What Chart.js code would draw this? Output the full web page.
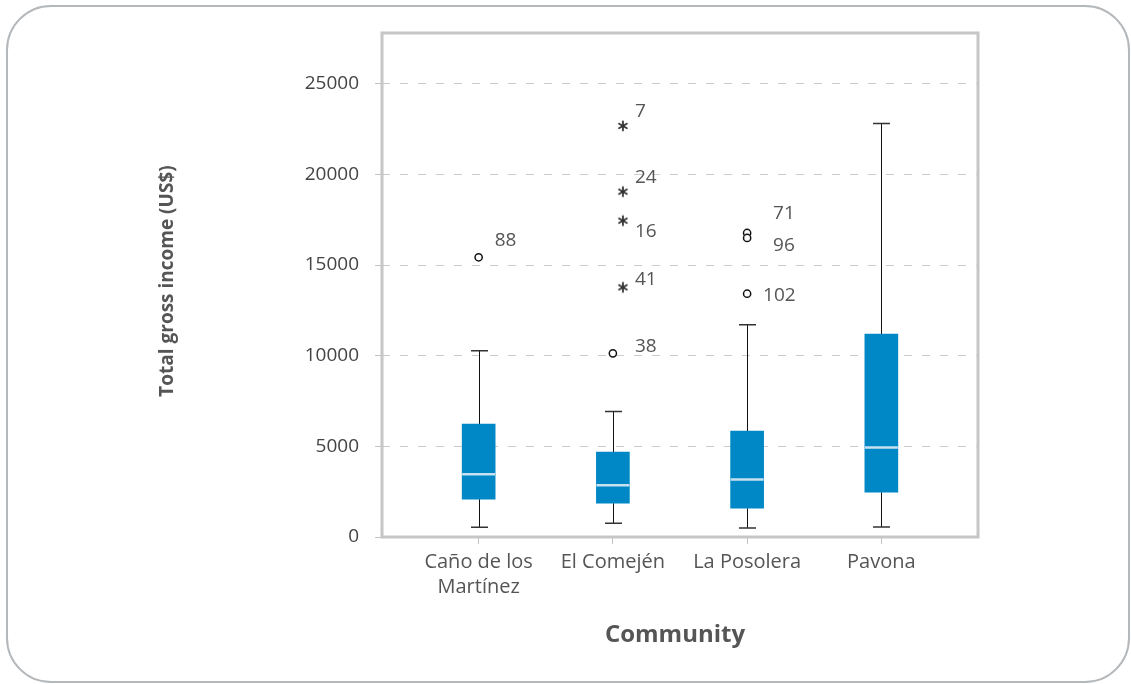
<!DOCTYPE html>
<html>
<head>
<meta charset="utf-8">
<script src="https://cdn.jsdelivr.net/npm/chart.js@4.4.1/dist/chart.umd.min.js"></script>
<style>
    html, body { margin: 0; padding: 0; background: #fff; }
    #frame {
        position: absolute; left: 6px; top: 5px;
        width: 1120px; height: 674px;
        border: 2px solid #b5b8bb; border-radius: 45px;
    }
    #chart { position: absolute; left: 0; top: 0; }
</style>
</head>
<body>
<div id="frame"></div>
<canvas id="chart" width="1131" height="684"></canvas>
<script>
// データ
const communities = [['Caño de los', 'Martínez'], 'El Comején', 'La Posolera', 'Pavona'];
const whiskerLow  = [541, 762, 502, 558];
const q1          = [2087, 1866, 1590, 2473];
const medians     = [3467, 2859, 3174, 4940];
const q3          = [6227, 4681, 5840, 11195];
const whiskerHigh = [10273, 6928, 11708, 22803];

// 外れ値 (○) と極値 (*)
const outlierCommunity = [1, 2, 3, 3, 3];
const outlierValue     = [15428, 10129, 16770, 16494, 13419];
const outlierCase      = ['88', '38', '71', '96', '102'];
const extremeCommunity = [2, 2, 2, 2];
const extremeValue     = [22676, 19050, 17449, 13772];
const extremeCase      = ['7', '24', '16', '41'];

const yTicks = [0, 5000, 10000, 15000, 20000, 25000];

// ラベルの位置ずれ (px)
const caseLabelOffset = {
    '88': [16, -17], '38': [22, -7], '71': [26, -19], '96': [26, 8], '102': [16, 2],
    '7': [22, -14], '24': [22, -14], '16': [22, 11], '41': [22, -8]
};

const BOX_COLOR = '#0088c6';
const TEXT = '#555555';
const FONT = "'Open Sans', sans-serif";

// アスタリスクの画像 (右に少しずらす)
function makeAsterisk() {
    const c = document.createElement('canvas');
    c.width = 40; c.height = 14;
    const g = c.getContext('2d');
    const cx = 20 + 10, cy = 7, r = 4.5;
    g.strokeStyle = '#333';
    g.lineWidth = 1.8;
    g.lineCap = 'round';
    [90, 30, -30].forEach(deg => {
        const a = deg * Math.PI / 180;
        g.beginPath();
        g.moveTo(cx - r * Math.cos(a), cy - r * Math.sin(a));
        g.lineTo(cx + r * Math.cos(a), cy + r * Math.sin(a));
        g.stroke();
    });
    return c;
}

const boxExtras = {
    id: 'boxExtras',
    beforeDatasetsDraw(chart) {
        const { ctx, scales: { x, y } } = chart;
        ctx.save();
        communities.forEach((_, i) => {
            const px = Math.round(x.getPixelForValue(i + 1)) + 0.5;
            ctx.strokeStyle = '#111';
            ctx.lineWidth = 1;
            ctx.beginPath();
            ctx.moveTo(px, y.getPixelForValue(whiskerLow[i]));
            ctx.lineTo(px, y.getPixelForValue(q1[i]));
            ctx.moveTo(px, y.getPixelForValue(q3[i]));
            ctx.lineTo(px, y.getPixelForValue(whiskerHigh[i]));
            ctx.stroke();
            ctx.strokeStyle = '#333';
            ctx.lineWidth = 1.5;
            ctx.beginPath();
            [whiskerLow[i], whiskerHigh[i]].forEach(v => {
                const py = y.getPixelForValue(v);
                ctx.moveTo(px - 8.5, py);
                ctx.lineTo(px + 8.5, py);
            });
            ctx.stroke();
        });
        ctx.restore();
    },
    afterDatasetsDraw(chart) {
        const { ctx, chartArea: a, scales: { x, y } } = chart;
        ctx.save();
        // 中央値
        ctx.strokeStyle = '#c8e1f1';
        ctx.lineWidth = 2.5;
        communities.forEach((_, i) => {
            const px = x.getPixelForValue(i + 1);
            const py = y.getPixelForValue(medians[i]);
            ctx.beginPath();
            ctx.moveTo(px - 16.5, py);
            ctx.lineTo(px + 16.5, py);
            ctx.stroke();
        });
        // ケース番号
        ctx.fillStyle = TEXT;
        ctx.font = `19px ${FONT}`;
        ctx.textAlign = 'left';
        ctx.textBaseline = 'middle';
        const label = (c, v, name) => {
            const off = caseLabelOffset[name];
            ctx.fillText(name, x.getPixelForValue(c) + off[0], y.getPixelForValue(v) + off[1]);
        };
        outlierCase.forEach((n, i) => label(outlierCommunity[i], outlierValue[i], n));
        extremeCase.forEach((n, i) => label(extremeCommunity[i], extremeValue[i], n));
        // 枠線
        ctx.strokeStyle = '#c6c6c6';
        ctx.lineWidth = 3;
        ctx.strokeRect(a.left, a.top, a.right - a.left, a.bottom - a.top);
        // 軸タイトル
        ctx.fillStyle = TEXT;
        ctx.textAlign = 'center';
        ctx.font = `bold 24px ${FONT}`;
        ctx.fillText('Community', 675, 635);
        ctx.translate(168, 281);
        ctx.rotate(-Math.PI / 2);
        ctx.font = `bold 19px ${FONT}`;
        ctx.fillText('Total gross income (US$)', 0, 0);
        ctx.restore();
    }
};

new Chart(document.getElementById('chart'), {
    type: 'bar',
    data: {
        datasets: [{
            data: communities.map((_, i) => ({ x: i + 1, y: [q1[i], q3[i]] })),
            backgroundColor: BOX_COLOR,
            borderWidth: 0,
            barThickness: 33,
            grouped: false
        }, {
            type: 'scatter',
            data: outlierValue.map((v, i) => ({ x: outlierCommunity[i], y: v })),
            pointStyle: 'circle',
            pointRadius: 3.6,
            borderWidth: 1.5,
            borderColor: '#111',
            backgroundColor: '#fff'
        }, {
            type: 'scatter',
            data: extremeValue.map((v, i) => ({ x: extremeCommunity[i], y: v })),
            pointStyle: makeAsterisk(),
            pointRadius: 6
        }]
    },
    options: {
        responsive: false,
        animation: false,
        layout: { padding: { top: 33, right: 153, left: 0, bottom: 0 } },
        plugins: { legend: { display: false }, tooltip: { enabled: false } },
        scales: {
            x: {
                type: 'linear',
                min: 0.28,
                max: 4.72,
                offset: false,
                afterBuildTicks: axis => { axis.ticks = communities.map((_, i) => ({ value: i + 1 })); },
                afterFit: axis => { axis.height = 147; },
                ticks: {
                    callback: (v) => communities[Math.round(v) - 1],
                    color: TEXT,
                    font: { family: FONT, size: 20, lineHeight: 1.25 },
                    padding: 6,
                    maxRotation: 0,
                    autoSkip: false
                },
                grid: { offset: false, drawOnChartArea: false, tickLength: 7, tickColor: '#c4c4c4' },
                border: { display: false }
            },
            y: {
                min: 0,
                max: 27800,
                afterBuildTicks: axis => { axis.ticks = yTicks.map(v => ({ value: v })); },
                afterFit: axis => { axis.width = 382; },
                ticks: {
                    callback: (v) => String(v),
                    color: '#444',
                    font: { family: FONT, size: 19 },
                    padding: 16
                },
                grid: { color: '#cbcbcb', tickColor: '#c4c4c4', tickLength: 7, lineWidth: 1 },
                border: { display: false, dash: [8, 10] }
            }
        }
    },
    plugins: [boxExtras]
});
</script>
</body>
</html>
